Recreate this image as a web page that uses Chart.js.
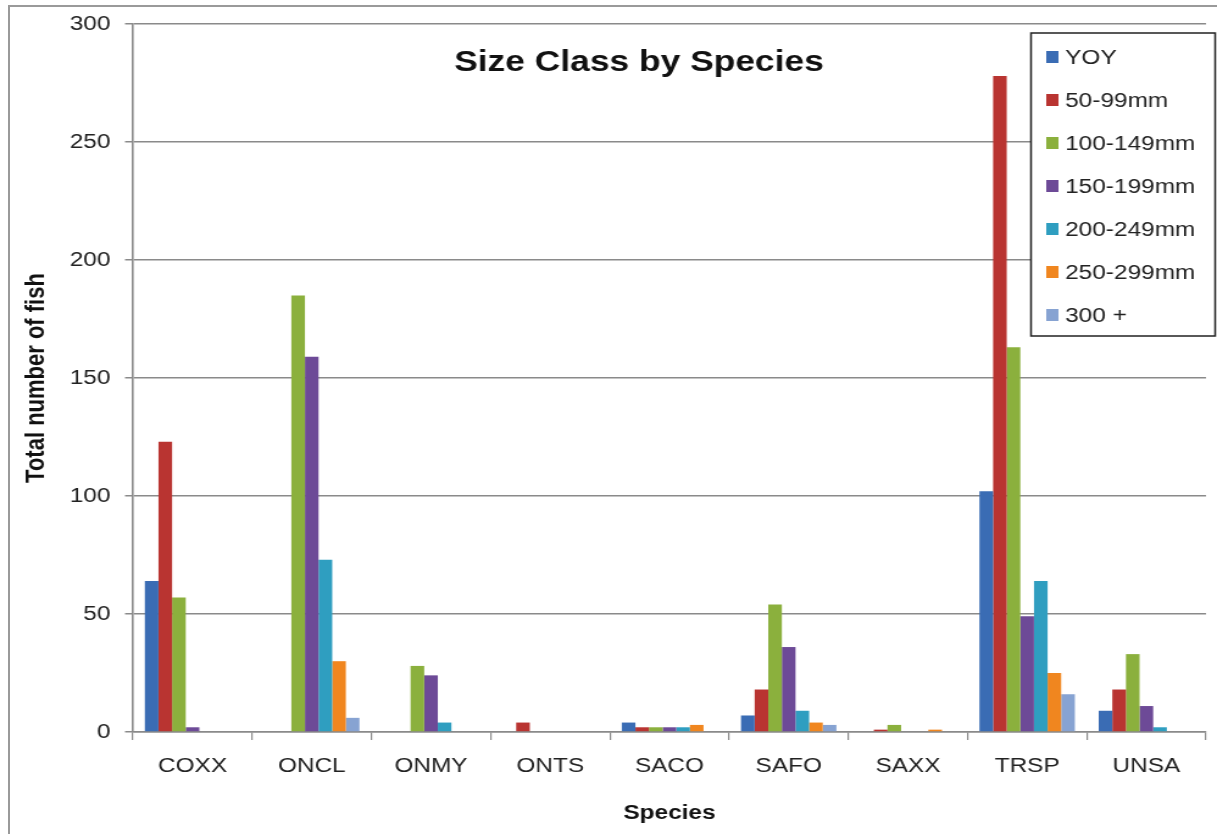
<!DOCTYPE html>
<html lang="en">
<head>
    <meta charset="UTF-8">
    <title>Size Class by Species</title>
    <script src="https://cdn.jsdelivr.net/npm/chart.js"></script>
    <style>
        html, body { margin: 0; padding: 0; background: #fff; overflow: hidden; }
        /* o original esta esticado na horizontal, por isso o scaleX */
        #wrap {
            position: absolute;
            left: 0; top: 0;
            width: 998px; height: 834px;
            transform: scaleX(1.2194);
            transform-origin: 0 0;
        }
        #frame {
            position: absolute;
            left: 8px; top: 5px;
            width: 1215px; height: 840px;
            border-left: 2px solid #9a9a9a;
            border-top: 2px solid #9a9a9a;
        }
    </style>
</head>
<body>
<div id="frame"></div>
<div id="wrap">
    <canvas id="fishChart" width="998" height="834"></canvas>
</div>

<script>
    // categorias e series
    const species = ['COXX', 'ONCL', 'ONMY', 'ONTS', 'SACO', 'SAFO', 'SAXX', 'TRSP', 'UNSA'];
    const sizeClasses = ['YOY', '50-99mm', '100-149mm', '150-199mm', '200-249mm', '250-299mm', '300 +'];
    const classColors = ['#3a6cb4', '#b93431', '#8bb03d', '#6d4a97', '#2f9ec0', '#f0861f', '#87a3d2'];

    const yoy      = [64, 0, 0, 0, 4, 7, 0, 102, 9];
    const mm50     = [123, 0, 0, 4, 2, 18, 1, 278, 18];
    const mm100    = [57, 185, 28, 0, 2, 54, 3, 163, 33];
    const mm150    = [2, 159, 24, 0, 2, 36, 0, 49, 11];
    const mm200    = [0, 73, 4, 0, 2, 9, 0, 64, 2];
    const mm250    = [0, 30, 0, 0, 3, 4, 1, 25, 0];
    const mm300    = [0, 6, 0, 0, 0, 3, 0, 16, 0];

    const yTicks = [0, 50, 100, 150, 200, 250, 300];
    const chartTitle = 'Size Class by Species';
    const xTitle = 'Species';
    const yTitle = 'Total number of fish';

    const seriesValues = [yoy, mm50, mm100, mm150, mm200, mm250, mm300];

    const FONT = '"Liberation Sans", Arial, sans-serif';

    // titulo e legenda desenhados dentro da area do grafico
    const overlayPlugin = {
        id: 'overlay',
        afterDraw(chart) {
            const c = chart.ctx;
            c.save();
            c.fillStyle = '#111';
            c.font = 'bold 29px ' + FONT;
            c.textAlign = 'center';
            c.textBaseline = 'middle';
            c.fillText(chartTitle, 524, 63);

            // caixa da legenda
            const bx = 845.5, by = 33, bw = 151, bh = 303;
            c.fillStyle = '#fff';
            c.fillRect(bx, by, bw, bh);
            c.strokeStyle = '#222';
            c.lineWidth = 1.5;
            c.strokeRect(bx, by, bw, bh);
            c.font = '20px ' + FONT;
            c.textAlign = 'left';
            chart.data.datasets.forEach((ds, i) => {
                const y = 57 + i * 43;
                c.fillStyle = ds.backgroundColor;
                c.fillRect(bx + 12.5, y - 6, 10, 12);
                c.fillStyle = '#222';
                c.fillText(ds.label, bx + 28, y + 1);
            });
            c.restore();
        }
    };

    const ctx = document.getElementById('fishChart').getContext('2d');
    const fishChart = new Chart(ctx, {
        type: 'bar',
        data: {
            labels: species,
            datasets: sizeClasses.map((name, i) => ({
                label: name,
                data: seriesValues[i],
                backgroundColor: classColors[i],
                borderWidth: 0,
                categoryPercentage: 0.8,
                barPercentage: 1.0
            }))
        },
        options: {
            responsive: false,
            animation: false,
            layout: { padding: { left: 0, right: 9, top: 18, bottom: 1 } },
            plugins: {
                legend: { display: false },
                title: { display: false },
                tooltip: { enabled: false }
            },
            scales: {
                x: {
                    offset: true,
                    grid: {
                        offset: true,
                        drawOnChartArea: false,
                        drawTicks: true,
                        tickLength: 8,
                        color: '#8a8a8a',
                        lineWidth: 1.2
                    },
                    border: { color: '#8a8a8a', width: 1.6 },
                    ticks: {
                        color: '#222',
                        padding: 14,
                        font: { family: FONT, size: 20 }
                    },
                    title: {
                        display: true,
                        text: xTitle,
                        color: '#111',
                        padding: { top: 9, bottom: 8 },
                        font: { family: FONT, size: 20, weight: 'bold' }
                    }
                },
                y: {
                    min: 0,
                    max: 300,
                    afterBuildTicks(axis) {
                        axis.ticks = yTicks.map(v => ({ value: v }));
                    },
                    afterFit(axis) {
                        axis.width = 109;
                    },
                    grid: {
                        color: '#8a8a8a',
                        lineWidth: 1.5,
                        tickLength: 6.5
                    },
                    border: { color: '#8a8a8a', width: 1.6 },
                    ticks: {
                        color: '#222',
                        padding: 12,
                        font: { family: FONT, size: 20 }
                    },
                    title: {
                        display: true,
                        text: yTitle,
                        color: '#111',
                        padding: { top: 17, bottom: 4 },
                        font: { family: FONT, size: 22, weight: 'bold' }
                    }
                }
            }
        },
        plugins: [overlayPlugin]
    });
</script>
</body>
</html>
